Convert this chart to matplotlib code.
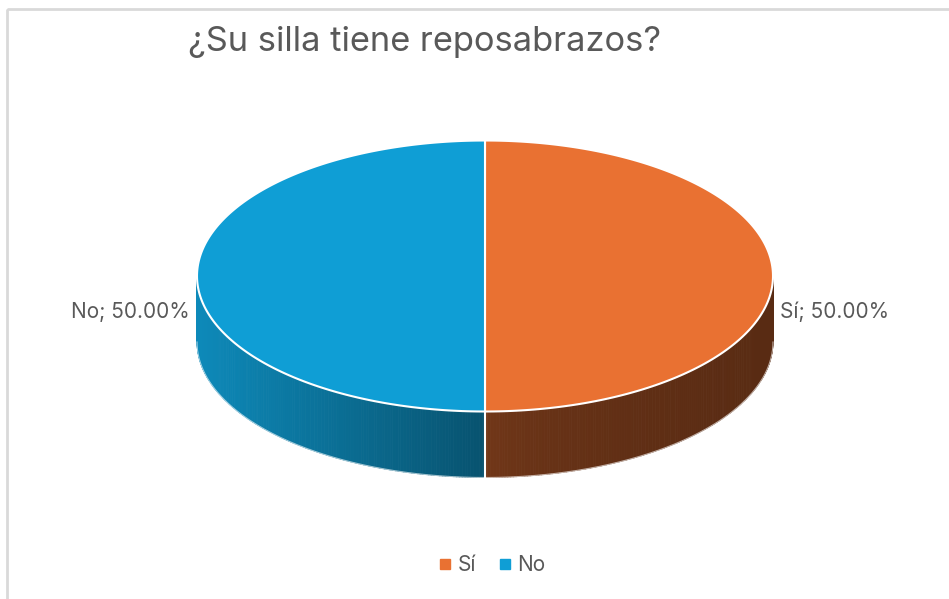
import numpy as np
import matplotlib
matplotlib.use("Agg")
import matplotlib.pyplot as plt
from matplotlib.patches import Polygon, Rectangle
from matplotlib.collections import PolyCollection
from matplotlib.lines import Line2D
from matplotlib.colors import to_rgb

plt.rcParams["font.family"] = ["Inter", "DejaVu Sans"]

title = "¿Su silla tiene reposabrazos?"
labels = ["Sí", "No"]
values = [50.0, 50.0]
colors = ["#E97132", "#0F9ED5"]

TEXT = "#595959"
W, H = 949, 599

# geometry of the 3D pie in pixel units
cx, cy = 485, 276
rx, ry = 288, 135.5
depth = 66


def rim(theta, dy=0.0):
    # theta measured clockwise from 12 o'clock
    return cx + rx * np.sin(theta), cy - ry * np.cos(theta) + dy


def shade(s):
    # darkening of the side wall, s = sin(theta) from -1 (left) to 1 (right)
    if s < 0:
        return 0.52 - 0.35 * s
    return 0.50 - 0.12 * np.sqrt(s)


fig = plt.figure(figsize=(W / 100, H / 100), dpi=100)
ax = fig.add_axes([0, 0, 1, 1])
ax.set_xlim(0, W)
ax.set_ylim(H, 0)
ax.axis("off")

# chart frame
ax.add_patch(Rectangle((7, 9), W + 20, H + 20, fill=False,
                       edgecolor="#D9D9D9", lw=2))

total = sum(values)
fracs = [v / total for v in values]
starts = np.cumsum([0] + fracs[:-1]) * 2 * np.pi
ends = starts + np.array(fracs) * 2 * np.pi

# side walls (front half only)
for a0, a1, col in zip(starts, ends, colors):
    lo, hi = max(a0, np.pi / 2), min(a1, 3 * np.pi / 2)
    if hi <= lo:
        continue
    th = np.linspace(lo, hi, 160)
    base = np.array(to_rgb(col))
    polys, fcs = [], []
    for t0, t1 in zip(th[:-1], th[1:]):
        x0, y0 = rim(t0)
        x1, y1 = rim(t1)
        polys.append([(x0, y0), (x1, y1), (x1, y1 + depth), (x0, y0 + depth)])
        fcs.append(np.clip(base * shade(np.sin((t0 + t1) / 2)), 0, 1))
    ax.add_collection(PolyCollection(polys, facecolors=fcs, edgecolors=fcs,
                                     linewidths=0.6))
    # outline of the wall
    xs, ys = rim(th)
    ax.plot(xs, ys + depth, color="white", lw=0.8, alpha=0.6)

# cut lines on the wall where slices meet
for a in starts:
    if np.pi / 2 < a < 3 * np.pi / 2:
        x, y = rim(a)
        ax.plot([x, x], [y, y + depth], color="white", lw=1.5)

# top faces
for a0, a1, col in zip(starts, ends, colors):
    th = np.linspace(a0, a1, 200)
    xs, ys = rim(th)
    pts = [(cx, cy)] + list(zip(xs, ys))
    ax.add_patch(Polygon(pts, closed=True, facecolor=col, edgecolor="white",
                         lw=1.5, joinstyle="round"))

# data labels
for a0, a1, lab, frac in zip(starts, ends, labels, fracs):
    mid = (a0 + a1) / 2
    x, y = rim(mid, depth / 2)
    s = np.sin(mid)
    x += 7 * np.sign(s)
    ax.text(x, y + 3, f"{lab}; {frac * 100:.2f}%", fontsize=15, color=TEXT,
            ha="left" if s > 0 else "right", va="center")

ax.text(425, 42, title, fontsize=24.8, color=TEXT, ha="center", va="center")

handles = [Line2D([], [], marker="s", ls="", color=c, markersize=7)
           for c in colors]
ax.legend(handles, labels, loc="center", bbox_to_anchor=(490, 565),
          bbox_transform=ax.transData, ncol=2, frameon=False,
          fontsize=15, labelcolor=TEXT, handletextpad=0.1,
          columnspacing=0.9, handlelength=1.0)

fig.savefig("out.png", dpi=100)
